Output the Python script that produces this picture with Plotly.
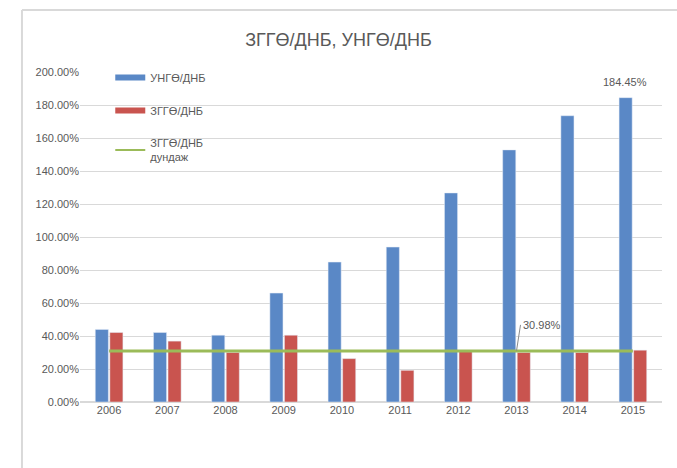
import plotly.graph_objects as go

years = ["2006", "2007", "2008", "2009", "2010", "2011", "2012", "2013", "2014", "2015"]
ungo_dnb = [44.0, 42.1, 40.5, 66.0, 84.8, 93.9, 126.7, 152.8, 173.5, 184.45]
zggo_dnb = [42.1, 36.9, 30.0, 40.5, 26.3, 19.2, 31.0, 30.0, 30.0, 31.4]
zggo_avg = 30.98
y_ticks = [0, 20, 40, 60, 80, 100, 120, 140, 160, 180, 200]
avg_label_year = "2013"

BLUE = "#5A88C6"
RED = "#C9544F"
GREEN = "#9BBB59"
GRAY = "#595959"
FONT = "Liberation Sans, Arial, sans-serif"

fig = go.Figure()
fig.add_trace(go.Bar(x=years, y=ungo_dnb, marker_color=BLUE, showlegend=False))
fig.add_trace(go.Bar(x=years, y=zggo_dnb, marker_color=RED, showlegend=False))
fig.add_trace(go.Scatter(x=years, y=[zggo_avg] * len(years), mode="lines",
                         line=dict(color=GREEN, width=3), showlegend=False))

# legend entries (line-style keys as in the original)
fig.add_trace(go.Scatter(x=years[:1], y=[None], mode="lines", name="УНГӨ/ДНБ",
                         line=dict(color=BLUE, width=6), legendgroup="a"))
fig.add_trace(go.Scatter(x=years[:1], y=[None], mode="lines", name="ЗГГӨ/ДНБ",
                         line=dict(color=RED, width=6), legendgroup="b"))
fig.add_trace(go.Scatter(x=years[:1], y=[None], mode="lines", name="ЗГГӨ/ДНБ<br>дундаж",
                         line=dict(color=GREEN, width=2), legendgroup="c"))

# data label on the last blue bar (sits above the blue bar of the group)
fig.add_annotation(x=len(years) - 1, y=ungo_dnb[-1], text=f"{ungo_dnb[-1]:.2f}%",
                   showarrow=False, xshift=-8, yshift=8, yanchor="bottom",
                   font=dict(size=11, color=GRAY, family=FONT))

fig.add_annotation(x=years.index(avg_label_year), y=zggo_avg, text=f"{zggo_avg:.2f}%",
                   showarrow=True, arrowhead=0, arrowwidth=1, arrowcolor="#8c8c8c",
                   ax=4, ay=-26, xanchor="left", yanchor="middle",
                   font=dict(size=11, color=GRAY, family=FONT))

# outer frame of the chart object
fig.add_shape(type="line", xref="paper", yref="paper", x0=-0.0997, x1=1.2, y0=1.188, y1=1.188,
              line=dict(color="#d9d9d9", width=2))
fig.add_shape(type="line", xref="paper", yref="paper", x0=-0.0997, x1=-0.0997, y0=1.188, y1=-0.3,
              line=dict(color="#d9d9d9", width=2))

fig.update_layout(
    width=677, height=468,
    margin=dict(l=80, r=15, t=72, b=66),
    paper_bgcolor="white", plot_bgcolor="white",
    barmode="group", bargap=0.5, bargroupgap=0.1,
    title=dict(text="ЗГГӨ/ДНБ, УНГӨ/ДНБ", x=0.5, xref="container", xanchor="center",
               y=0.915, yref="container", yanchor="middle",
               font=dict(size=18, color=GRAY, family=FONT)),
    font=dict(family=FONT, size=11, color=GRAY),
    legend=dict(x=0.052, y=1.027, xanchor="left", yanchor="top", bgcolor="rgba(0,0,0,0)",
                traceorder="grouped", tracegroupgap=14, itemwidth=30,
                font=dict(size=11, color=GRAY, family=FONT)),
    xaxis=dict(type="category", categoryorder="array", categoryarray=years,
               range=[-0.5, len(years) - 0.5],
               showgrid=False, ticks="", showline=False,
               tickfont=dict(size=11, color=GRAY)),
    yaxis=dict(range=[0, 200], tickvals=y_ticks, ticktext=[f"{v:.2f}%" for v in y_ticks],
               showgrid=True, gridcolor="#d9d9d9", gridwidth=1, zeroline=True,
               zerolinecolor="#d9d9d9", ticks="", showline=False,
               tickfont=dict(size=11, color=GRAY)),
)

fig.write_html("out.html", config={"displayModeBar": False},
               post_script="document.body.style.margin='0';")
